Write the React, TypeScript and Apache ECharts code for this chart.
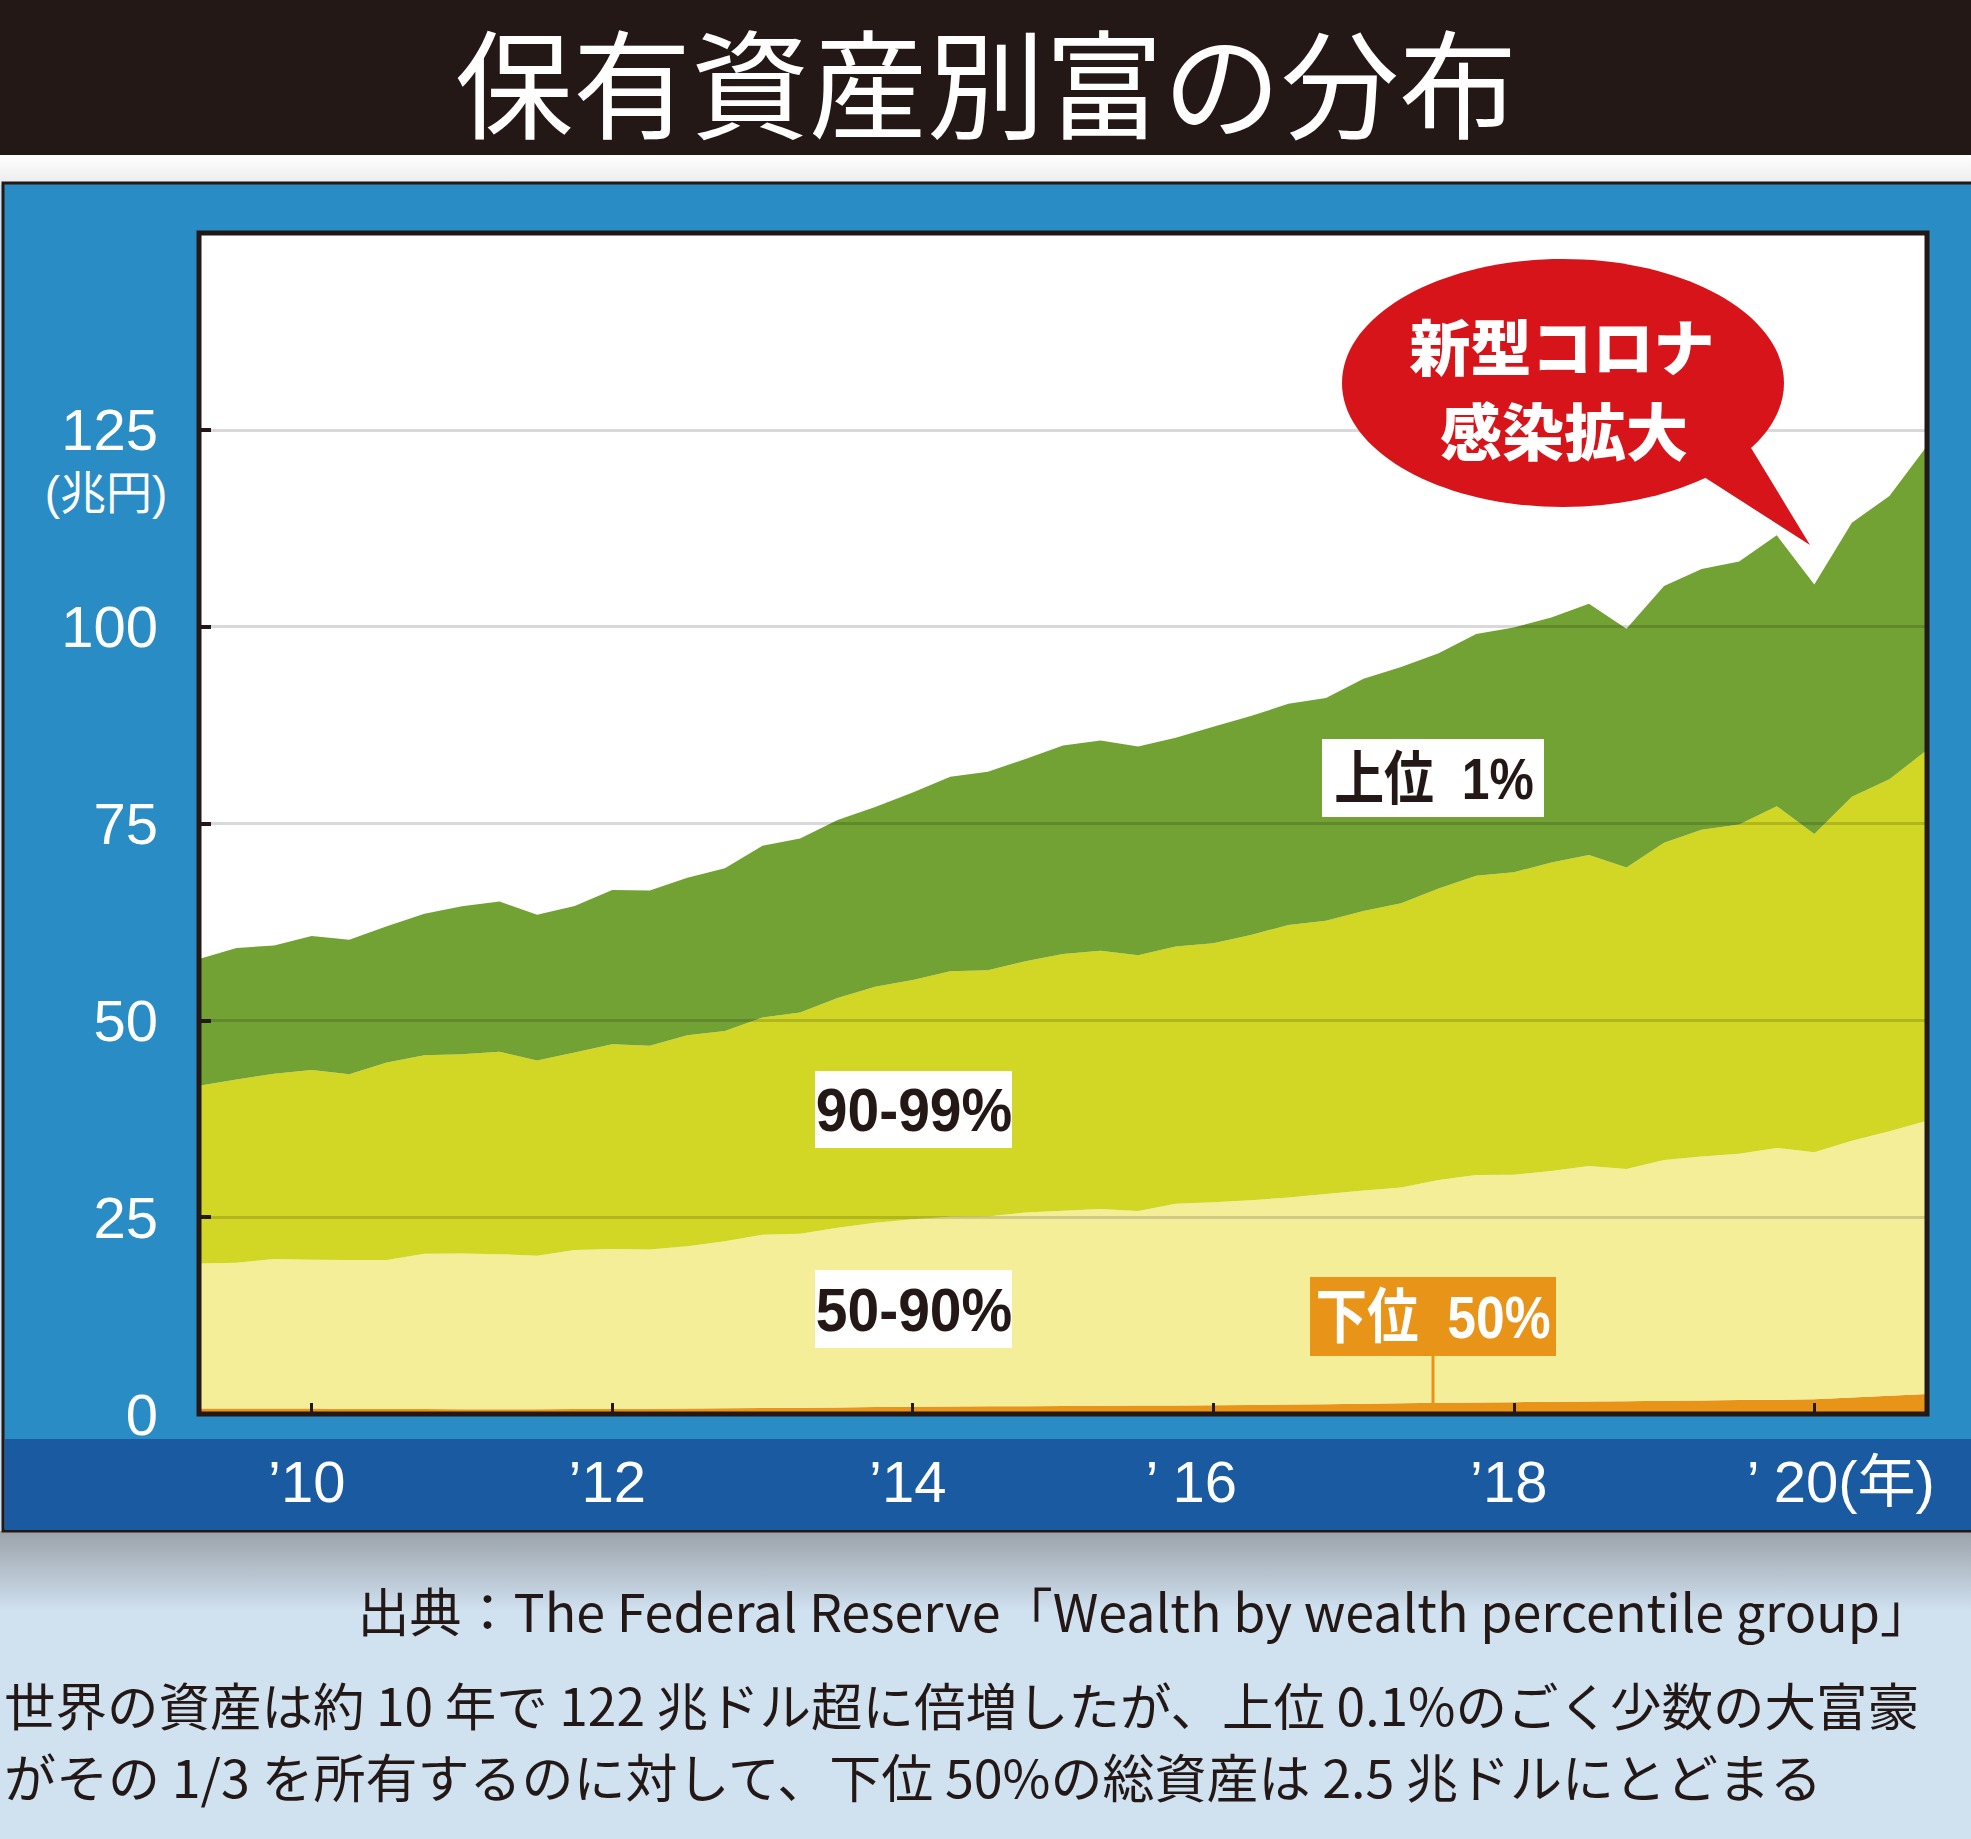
import React, { useEffect, useRef } from 'react';
import * as echarts from 'echarts';

const W = 1971;
const H = 1839;

// Quarterly categories (2009Q2 – 2020Q4)
const quarters = [
  '2009Q2', '2009Q3', '2009Q4',
  '2010Q1', '2010Q2', '2010Q3', '2010Q4',
  '2011Q1', '2011Q2', '2011Q3', '2011Q4',
  '2012Q1', '2012Q2', '2012Q3', '2012Q4',
  '2013Q1', '2013Q2', '2013Q3', '2013Q4',
  '2014Q1', '2014Q2', '2014Q3', '2014Q4',
  '2015Q1', '2015Q2', '2015Q3', '2015Q4',
  '2016Q1', '2016Q2', '2016Q3', '2016Q4',
  '2017Q1', '2017Q2', '2017Q3', '2017Q4',
  '2018Q1', '2018Q2', '2018Q3', '2018Q4',
  '2019Q1', '2019Q2', '2019Q3', '2019Q4',
  '2020Q1', '2020Q2', '2020Q3', '2020Q4',
];

// x tick labels (year marks)
const xTickLabels: Record<string, string> = {
  '2010Q1': '’10',
  '2012Q1': '’12',
  '2014Q1': '’14',
  '2016Q1': '’ 16',
  '2018Q1': '’18',
  '2020Q1': '’ 20(年)',
};

const yTickLabels = [0, 25, 50, 75, 100, 125];

// wealth by group (stack layers)
const bottom50 = [0.7, 0.7, 0.7, 0.7, 0.65, 0.65, 0.65, 0.6, 0.6, 0.6, 0.62, 0.65, 0.68, 0.7, 0.73, 0.77, 0.8, 0.84, 0.88, 0.93, 0.95, 0.97, 1.0, 1.02, 1.05, 1.07, 1.09, 1.1, 1.15, 1.2, 1.25, 1.3, 1.37, 1.43, 1.47, 1.5, 1.55, 1.6, 1.62, 1.67, 1.72, 1.77, 1.8, 1.86, 2.09, 2.31, 2.54];
const pct50to90 = [18.4, 18.5, 19.0, 18.9, 18.9, 18.9, 19.7, 19.8, 19.7, 19.5, 20.2, 20.3, 20.2, 20.6, 21.2, 22.0, 22.1, 22.8, 23.4, 23.8, 24.1, 24.1, 24.6, 24.8, 25.0, 24.7, 25.6, 25.8, 26.0, 26.3, 26.7, 27.1, 27.4, 28.3, 28.9, 28.9, 29.3, 29.9, 29.5, 30.6, 31.0, 31.3, 32.0, 31.4, 32.6, 33.6, 34.7];
const pct90to99 = [22.6, 23.3, 23.5, 24.1, 23.6, 25.1, 25.2, 25.3, 25.7, 24.8, 25.1, 26.0, 25.9, 26.8, 26.7, 27.6, 28.1, 29.2, 30.0, 30.4, 31.2, 31.3, 31.9, 32.6, 32.8, 32.5, 32.7, 32.9, 33.7, 34.6, 34.7, 35.5, 36.1, 37.0, 38.0, 38.4, 39.2, 39.5, 38.3, 40.3, 41.5, 41.8, 43.4, 40.4, 43.7, 44.7, 47.1];
const top1 = [16.1, 16.7, 16.3, 17.0, 17.1, 17.3, 18.0, 18.8, 19.1, 18.5, 18.6, 19.6, 19.7, 20.0, 20.7, 21.8, 22.1, 22.6, 22.8, 23.8, 24.7, 25.2, 25.7, 26.5, 26.7, 26.5, 26.5, 27.5, 27.8, 28.1, 28.3, 29.5, 30.0, 29.9, 30.7, 31.1, 31.1, 31.9, 30.3, 32.6, 33.1, 33.4, 34.4, 31.7, 34.8, 36.0, 38.6];

const layers = [
  { name: '下位50%', data: bottom50, color: '#e89419' },
  { name: '50-90%', data: pct50to90, color: '#f5ee99' },
  { name: '90-99%', data: pct90to99, color: '#d2d624' },
  { name: '上位1%', data: top1, color: '#72a233' },
];

const NUM_FONT = '"Liberation Sans", "Noto Sans CJK JP", sans-serif';
const JP_FONT = '"Noto Sans CJK JP", sans-serif';
const INK = '#231815';

const GRID = { left: 199, top: 233, width: 1728, height: 1181 };

function buildOption(): any {
  const labelBase = { color: '#fff', fontSize: 58, fontFamily: NUM_FONT, lineHeight: 58 };
  return {
    animation: false,
    backgroundColor: '#d0e1f0',
    grid: { ...GRID, show: true, backgroundColor: '#ffffff', borderWidth: 0, containLabel: false },
    xAxis: {
      type: 'category',
      data: quarters,
      boundaryGap: false,
      z: 3,
      axisLine: { show: true, lineStyle: { color: INK, width: 4 } },
      axisTick: {
        show: true,
        inside: true,
        length: 11,
        lineStyle: { color: INK, width: 3 },
        interval: (_i: number, v: string) => v in xTickLabels,
      },
      axisLabel: {
        interval: (_i: number, v: string) => v in xTickLabels,
        margin: 38,
        formatter: (v: string) => {
          const t = xTickLabels[v];
          if (!t) return '';
          const key = v === '2016Q1' ? 'm' : v === '2020Q1' ? 'l' : 'n';
          return `{${key}|${t}}`;
        },
        rich: {
          n: { ...labelBase, padding: [0, 10, 0, 0] },
          m: { ...labelBase, padding: [0, 44, 0, 0] },
          l: { ...labelBase, padding: [0, 0, 0, 53] },
        },
        ...labelBase,
      },
      splitLine: { show: false },
    },
    yAxis: {
      type: 'value',
      min: 0,
      max: 150,
      interval: 25,
      z: 3,
      axisLine: { show: true, lineStyle: { color: INK, width: 4 } },
      axisTick: { show: true, inside: true, length: 12, lineStyle: { color: INK, width: 4 } },
      axisLabel: {
        margin: 41,
        color: '#fff',
        fontSize: 58,
        fontFamily: NUM_FONT,
        formatter: (v: number) => (yTickLabels.includes(v) ? String(v) : ''),
      },
      splitLine: { show: true, lineStyle: { color: 'rgba(0,0,0,0.15)', width: 3 } },
    },
    series: layers.map((l) => ({
      type: 'line',
      name: l.name,
      data: l.data,
      stack: 'wealth',
      symbol: 'none',
      showSymbol: false,
      silent: true,
      z: 2,
      lineStyle: { width: 0, color: l.color },
      itemStyle: { color: l.color },
      areaStyle: { color: l.color, opacity: 1 },
    })),
    graphic: [
      // page backgrounds
      { type: 'rect', z: -20, silent: true, shape: { x: 0, y: 155, width: W, height: 30 },
        style: { fill: new echarts.graphic.LinearGradient(0, 0, 0, 1, [{ offset: 0, color: '#ffffff' }, { offset: 1, color: '#ebebeb' }]) } },
      { type: 'rect', z: -19, silent: true, shape: { x: 0, y: 0, width: W, height: 155 }, style: { fill: INK } },
      { type: 'rect', z: -19, silent: true, shape: { x: 0, y: 1531, width: W, height: 80 },
        style: { fill: new echarts.graphic.LinearGradient(0, 0, 0, 1, [{ offset: 0, color: '#9ba2aa' }, { offset: 1, color: '#d0e1f0' }]) } },
      { type: 'rect', z: -18, silent: true, shape: { x: 3, y: 183, width: W + 10, height: 1348 },
        style: { fill: '#2a8cc4', stroke: INK, lineWidth: 3 } },
      { type: 'rect', z: -17, silent: true, shape: { x: 5, y: 1439, width: W, height: 91 }, style: { fill: '#1a5aa0' } },
      // title
      { type: 'text', z: 10, x: 986, y: 78, silent: true,
        style: { text: '保有資産別富の分布', fill: '#fff', fontSize: 118, fontWeight: 'normal', fontFamily: JP_FONT, align: 'center', verticalAlign: 'middle' } },
      // plot frame
      { type: 'rect', z: 50, silent: true, shape: { x: GRID.left, y: GRID.top, width: GRID.width, height: GRID.height },
        style: { fill: 'none', stroke: INK, lineWidth: 5 } },
      // unit label
      { type: 'text', z: 10, x: 106, y: 493, silent: true,
        style: { text: '(兆円)', fill: '#fff', fontSize: 46, fontFamily: NUM_FONT, align: 'center', verticalAlign: 'middle' } },
      // group labels
      { type: 'rect', z: 60, silent: true, shape: { x: 1322, y: 739, width: 222, height: 78 }, style: { fill: '#fff' } },
      { type: 'text', z: 61, x: 1434, y: 779, scaleX: 0.86, silent: true,
        style: { text: '上位  1%', fill: INK, fontSize: 58, fontWeight: 'bold', fontFamily: NUM_FONT, align: 'center', verticalAlign: 'middle' } },
      { type: 'rect', z: 60, silent: true, shape: { x: 815, y: 1071, width: 197, height: 77 }, style: { fill: '#fff' } },
      { type: 'text', z: 61, x: 914, y: 1110, scaleX: 0.92, silent: true,
        style: { text: '90-99%', fill: INK, fontSize: 62, fontWeight: 'bold', fontFamily: NUM_FONT, align: 'center', verticalAlign: 'middle' } },
      { type: 'rect', z: 60, silent: true, shape: { x: 815, y: 1270, width: 197, height: 78 }, style: { fill: '#fff' } },
      { type: 'text', z: 61, x: 914, y: 1310, scaleX: 0.92, silent: true,
        style: { text: '50-90%', fill: INK, fontSize: 62, fontWeight: 'bold', fontFamily: NUM_FONT, align: 'center', verticalAlign: 'middle' } },
      { type: 'line', z: 59, silent: true, shape: { x1: 1433, y1: 1350, x2: 1433, y2: 1404 }, style: { stroke: '#e89419', lineWidth: 3 } },
      { type: 'rect', z: 60, silent: true, shape: { x: 1310, y: 1277, width: 246, height: 79 }, style: { fill: '#e89419' } },
      { type: 'text', z: 61, x: 1433, y: 1317, scaleX: 0.86, silent: true,
        style: { text: '下位  50%', fill: '#fff', fontSize: 60, fontWeight: 'bold', fontFamily: NUM_FONT, align: 'center', verticalAlign: 'middle' } },
      // speech bubble
      { type: 'ellipse', z: 60, silent: true, shape: { cx: 1563, cy: 383, rx: 221, ry: 124 }, style: { fill: '#d7141a' } },
      { type: 'polygon', z: 60, silent: true, shape: { points: [[1690, 468], [1810, 545], [1745, 438]] }, style: { fill: '#d7141a' } },
      { type: 'text', z: 61, x: 1562, y: 344, silent: true,
        style: { text: '新型コロナ', fill: '#fff', fontSize: 61, fontWeight: 900, fontFamily: JP_FONT, align: 'center', verticalAlign: 'middle' } },
      { type: 'text', z: 61, x: 1564, y: 429, silent: true,
        style: { text: '感染拡大', fill: '#fff', fontSize: 62, fontWeight: 900, fontFamily: JP_FONT, align: 'center', verticalAlign: 'middle' } },
      // source + notes
      { type: 'text', z: 10, x: 1932, y: 1609, silent: true,
        style: { text: '出典：The Federal Reserve「Wealth by wealth percentile group」', fill: INK, fontSize: 52, fontFamily: JP_FONT, align: 'right', verticalAlign: 'middle' } },
      { type: 'text', z: 10, x: 4, y: 1703, silent: true,
        style: { text: '世界の資産は約 10 年で 122 兆ドル超に倍増したが、上位 0.1%のごく少数の大富豪', fill: INK, fontSize: 51.5, fontFamily: JP_FONT, align: 'left', verticalAlign: 'middle' } },
      { type: 'text', z: 10, x: 4, y: 1775, silent: true,
        style: { text: 'がその 1/3 を所有するのに対して、下位 50%の総資産は 2.5 兆ドルにとどまる', fill: INK, fontSize: 52, fontFamily: JP_FONT, align: 'left', verticalAlign: 'middle' } },
    ],
  };
}

export default function App() {
  const ref = useRef<HTMLDivElement>(null);
  useEffect(() => {
    if (!ref.current) return;
    const chart = echarts.init(ref.current, null, { renderer: 'svg', width: W, height: H });
    chart.setOption(buildOption());
    return () => chart.dispose();
  }, []);
  return <div ref={ref} style={{ position: 'absolute', left: 0, top: 0, width: W, height: H }} />;
}
